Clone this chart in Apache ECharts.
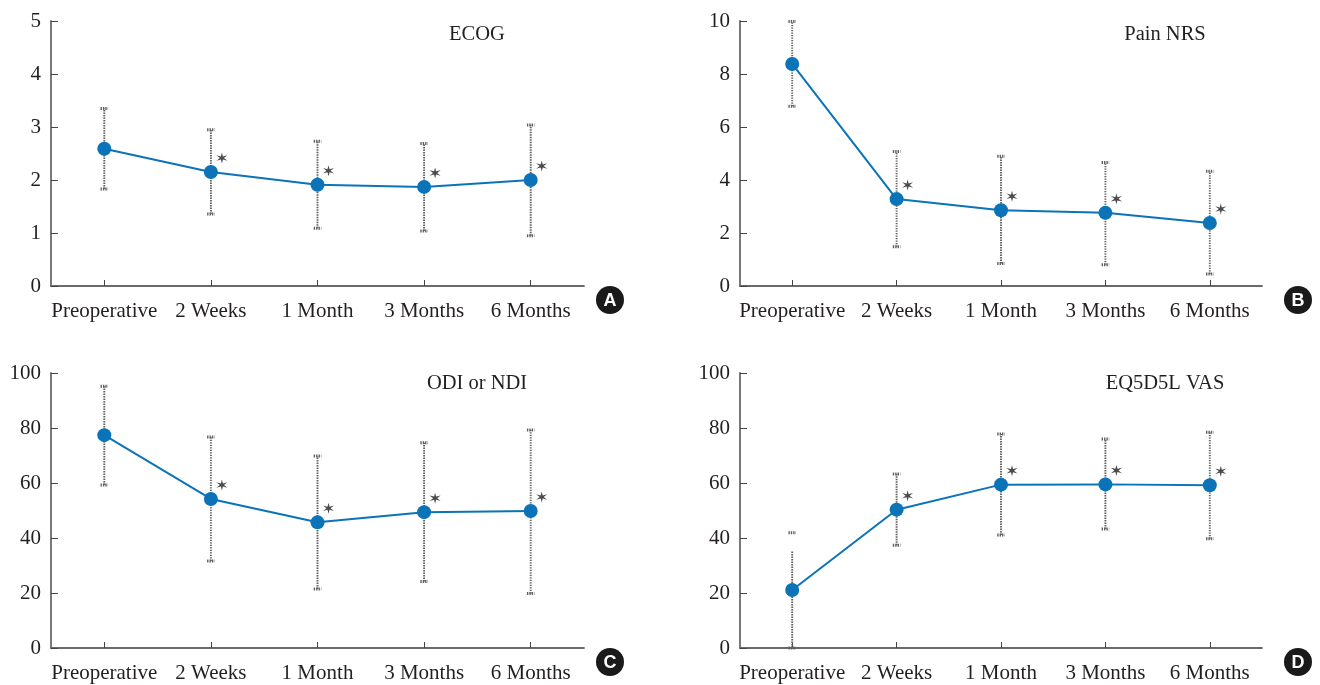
<!DOCTYPE html>
<html>
<head>
<meta charset="utf-8">
<script src="https://cdn.jsdelivr.net/npm/echarts@6/dist/echarts.min.js"></script>
<style>
html,body{margin:0;padding:0;background:#fff;}
#c{width:1320px;height:685px;}
</style>
</head>
<body>
<div id="c"></div>
<script>
var categories = ['Preoperative', '2 Weeks', '1 Month', '3 Months', '6 Months'];

// Panel A: ECOG
var ecogMean = [2.59, 2.15, 1.91, 1.87, 2.00];
var ecogLow  = [1.83, 1.36, 1.09, 1.04, 0.95];
var ecogHigh = [3.35, 2.95, 2.73, 2.69, 3.04];

// Panel B: Pain NRS
var nrsMean = [8.38, 3.28, 2.86, 2.76, 2.38];
var nrsLow  = [6.78, 1.48, 0.85, 0.80, 0.45];
var nrsHigh = [9.98, 5.08, 4.90, 4.66, 4.33];

// Panel C: ODI or NDI
var odiMean = [77.4, 54.2, 45.7, 49.4, 49.8];
var odiLow  = [59.3, 31.6, 21.5, 24.2, 19.8];
var odiHigh = [95.2, 76.7, 69.8, 74.6, 79.3];

// Panel D: EQ5D5L VAS
var vasMean = [21.1, 50.3, 59.4, 59.5, 59.2];
var vasLow  = [0.0, 37.4, 41.1, 43.3, 39.7];
var vasHigh = [41.9, 63.3, 77.8, 76.0, 78.5];
var vasLineTop = [35.5, 63.3, 77.8, 76.0, 78.5]; // visible top of dotted whisker

// significance markers (* shown for follow-up visits)
var sigFlags = [false, true, true, true, true];

var yTicksA = {min: 0, max: 5, interval: 1};
var yTicksB = {min: 0, max: 10, interval: 2};
var yTicksC = {min: 0, max: 100, interval: 20};
var yTicksD = {min: 0, max: 100, interval: 20};

var panels = [
  {title: 'ECOG', mean: ecogMean, low: ecogLow, high: ecogHigh, lineTop: ecogHigh, y: yTicksA, badge: 'A'},
  {title: 'Pain NRS', mean: nrsMean, low: nrsLow, high: nrsHigh, lineTop: nrsHigh, y: yTicksB, badge: 'B'},
  {title: 'ODI or NDI', mean: odiMean, low: odiLow, high: odiHigh, lineTop: odiHigh, y: yTicksC, badge: 'C'},
  {title: 'EQ5D5L VAS', mean: vasMean, low: vasLow, high: vasHigh, lineTop: vasLineTop, y: yTicksD, badge: 'D'}
];

var grids = [
  {left: 51, top: 21, width: 533, height: 265},
  {left: 740, top: 21, width: 522, height: 265},
  {left: 51, top: 373, width: 533, height: 275},
  {left: 740, top: 373, width: 522, height: 275}
];
var titlePos = [[477, 35], [1165, 35], [477, 384], [1165, 384]];
var badgePos = [[610, 300], [1298, 300], [610, 662], [1298, 662]];

var serif = '"Liberation Serif", "DejaVu Serif", serif';
var axisColor = '#6a6a6a';
var textColor = '#231f20';
var lineColor = '#0b73b7';
var errColor = '#606060';
var starPath = 'path://M10,0L11.6,7.2L18.66,5L13.2,10L18.66,15L11.6,12.8L10,20L8.4,12.8L1.34,15L6.8,10L1.34,5L8.4,7.2Z';

var option = {
  backgroundColor: '#fff',
  animation: false,
  grid: [], xAxis: [], yAxis: [], series: [], graphic: []
};

panels.forEach(function (p, i) {
  var g = grids[i];
  option.grid.push({left: g.left, top: g.top, width: g.width, height: g.height, containLabel: false});
  option.xAxis.push({
    type: 'category', gridIndex: i, data: categories, boundaryGap: true,
    axisLine: {lineStyle: {color: axisColor, width: 1.8}},
    axisTick: {show: true, inside: true, alignWithLabel: true, length: 6, lineStyle: {color: '#444', width: 1}},
    axisLabel: {fontFamily: serif, fontSize: 21, color: textColor, margin: 15, interval: 0}
  });
  option.yAxis.push({
    type: 'value', gridIndex: i, min: p.y.min, max: p.y.max, interval: p.y.interval,
    axisLine: {show: true, lineStyle: {color: axisColor, width: 1.8}},
    axisTick: {show: true, inside: true, length: 7, lineStyle: {color: '#444', width: 1}},
    splitLine: {show: false},
    axisLabel: {fontFamily: serif, fontSize: 21, color: textColor, margin: 10}
  });

  var errData = p.mean.map(function (m, k) { return [k, p.low[k], p.high[k], p.lineTop[k]]; });
  option.series.push({
    type: 'custom', xAxisIndex: i, yAxisIndex: i, z: 1,
    data: errData,
    renderItem: function (params, api) {
      var x = api.value(0);
      var lo = api.coord([x, api.value(1)]);
      var hi = api.coord([x, api.value(2)]);
      var top = api.coord([x, api.value(3)]);
      var cw = 3.8;
      var st = {stroke: errColor, lineWidth: 1.9, lineDash: [1.4, 1.1]};
      var capSt = {stroke: errColor, lineWidth: 3, lineDash: [1.4, 1]};
      return {
        type: 'group',
        children: [
          {type: 'line', shape: {x1: lo[0], y1: lo[1], x2: top[0], y2: top[1]}, style: st},
          {type: 'line', shape: {x1: hi[0] - cw, y1: hi[1], x2: hi[0] + cw, y2: hi[1]}, style: capSt},
          {type: 'line', shape: {x1: lo[0] - cw, y1: lo[1], x2: lo[0] + cw, y2: lo[1]}, style: capSt}
        ]
      };
    }
  });
  option.series.push({
    type: 'line', xAxisIndex: i, yAxisIndex: i, z: 3,
    data: p.mean,
    symbol: 'circle', symbolSize: 14,
    lineStyle: {color: lineColor, width: 2},
    itemStyle: {color: lineColor}
  });
  option.series.push({
    type: 'scatter', xAxisIndex: i, yAxisIndex: i, z: 4,
    data: p.mean.map(function (m, k) { return sigFlags[k] ? m : null; }),
    symbol: starPath, symbolSize: 11, symbolOffset: [11, -14],
    itemStyle: {color: '#1e1e1e'}
  });

  option.graphic.push({
    type: 'text', x: titlePos[i][0], y: titlePos[i][1],
    style: {text: p.title, fontFamily: serif, fontSize: 20.5, fill: textColor, textAlign: 'center', textVerticalAlign: 'middle'}
  });
  option.graphic.push({
    type: 'circle', shape: {cx: badgePos[i][0], cy: badgePos[i][1], r: 14},
    style: {fill: '#1a1a1a'}
  });
  option.graphic.push({
    type: 'text', x: badgePos[i][0], y: badgePos[i][1] + 1,
    style: {text: p.badge, fontFamily: '"Liberation Sans", Arial, sans-serif', fontWeight: 'bold', fontSize: 18, fill: '#fff', textAlign: 'center', textVerticalAlign: 'middle'}
  });
});

var chart = echarts.init(document.getElementById('c'), null, {renderer: 'canvas'});
chart.setOption(option);
</script>
</body>
</html>
